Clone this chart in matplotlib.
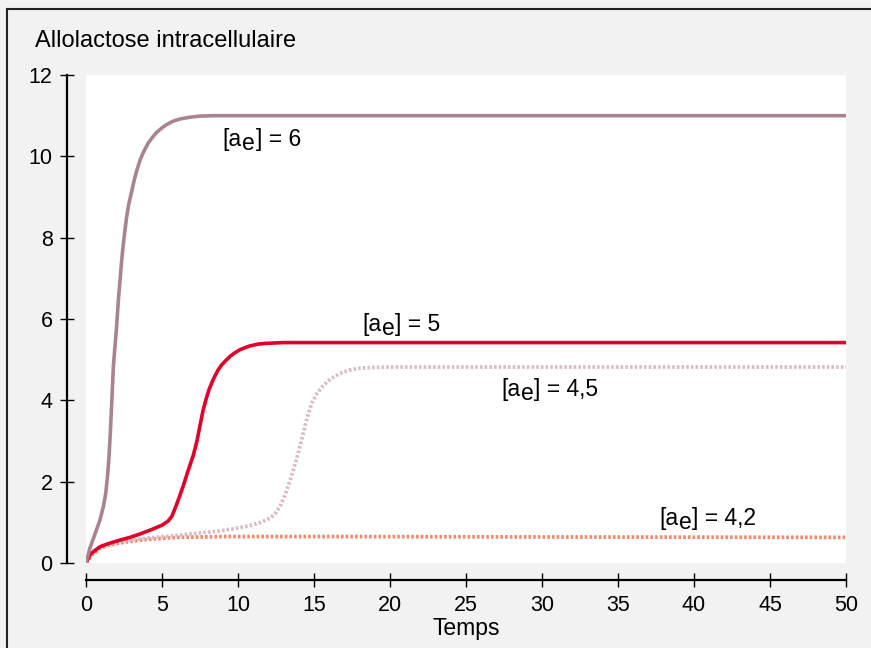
import numpy as np
import matplotlib
matplotlib.use("Agg")
import matplotlib.pyplot as plt
from matplotlib.lines import Line2D

plt.rcParams['font.family'] = ['Liberation Sans', 'DejaVu Sans']

# courbes
t6 = [0, 0.26, 0.6, 0.92, 1.15, 1.3, 1.42, 1.52, 1.6, 1.7, 1.8, 1.9, 2.0, 2.13, 2.25, 2.35, 2.46, 2.57, 2.67, 2.8, 3.0, 3.15, 3.3, 3.55, 3.8, 4.1, 4.4, 4.65, 5.0, 5.3, 5.7, 6.2, 6.8, 7.5, 8.5, 50]
y6 = [0, 0.37, 0.72, 1.06, 1.4, 1.72, 2.15, 2.65, 3.2, 4.0, 4.83, 5.3, 5.75, 6.47, 7.0, 7.45, 7.86, 8.2, 8.5, 8.8, 9.13, 9.38, 9.6, 9.9, 10.12, 10.33, 10.48, 10.59, 10.7, 10.78, 10.86, 10.92, 10.96, 10.99, 11.0, 11.0]

t5 = [0, 0.3, 0.92, 1.5, 2.2, 2.89, 3.6, 4.3, 5.0, 5.4, 5.65, 5.9, 6.15, 6.4, 6.7, 7.06, 7.3, 7.5, 7.7, 7.9, 8.1, 8.38, 8.65, 8.9, 9.2, 9.47, 9.8, 10.1, 10.5, 10.8, 11.3, 11.8, 12.4, 13, 50]
y5 = [0, 0.22, 0.40, 0.48, 0.56, 0.63, 0.72, 0.82, 0.93, 1.03, 1.15, 1.38, 1.63, 1.9, 2.25, 2.65, 3.0, 3.38, 3.75, 4.03, 4.27, 4.52, 4.72, 4.86, 4.98, 5.08, 5.17, 5.24, 5.3, 5.34, 5.38, 5.4, 5.41, 5.42, 5.42]

t45 = [0, 0.48, 1.2, 2.0, 2.68, 3.5, 4.2, 5.5, 7.0, 8.6, 9.7, 10.8, 11.5, 12.1, 12.5, 12.8, 13.1, 13.4, 13.7, 14.0, 14.3, 14.55, 14.85, 15.2, 15.6, 16.1, 16.7, 17.3, 18.0, 19.0, 20.0, 50]
y45 = [0, 0.3, 0.45, 0.51, 0.55, 0.59, 0.62, 0.66, 0.72, 0.78, 0.84, 0.92, 1.0, 1.1, 1.24, 1.42, 1.68, 2.0, 2.36, 2.76, 3.2, 3.58, 3.93, 4.17, 4.36, 4.53, 4.66, 4.74, 4.79, 4.81, 4.82, 4.82]

t42 = [0, 0.4, 0.92, 1.6, 2.68, 4.0, 5.96, 9.25, 16.9, 30, 50]
y42 = [0, 0.2, 0.36, 0.45, 0.52, 0.58, 0.63, 0.65, 0.65, 0.64, 0.63]

label_vals = ['6', '5', '4,5', '4,2']
label_pos = [(9.0, 10.25), (18.16, 5.70), (27.3, 4.11), (37.7, 0.93)]

bg = '#f2f2f2'
fig = plt.figure(figsize=(8.71, 6.48), dpi=100, facecolor=bg)
ax = fig.add_axes([86/871, 85/648, 760/871, 488/648], facecolor='white')

ax.plot(t42, y42, color='#f08a6c', lw=2.7, dashes=(0.7, 0.55))
ax.plot(t45, y45, color='#d9bcc6', lw=2.7, dashes=(0.7, 0.55))
ax.plot(t5, y5, color='#e0002a', lw=2.6, solid_capstyle='round', solid_joinstyle='round')
ax.plot(t6, y6, color='#a9838f', lw=2.6, solid_capstyle='round', solid_joinstyle='round')

fs_lab = 16.5
for val, (x, y) in zip(label_vals, label_pos):
    t1 = ax.text(x, y, '[a', fontsize=fs_lab, ha='left', va='baseline')
    t2 = ax.annotate('e', xy=(1, y), xycoords=(t1, 'data'), xytext=(0.3, -3),
                     textcoords='offset points', fontsize=fs_lab, ha='left', va='baseline')
    ax.annotate('] = ' + val, xy=(1, y), xycoords=(t2, 'data'), xytext=(0.3, 0),
                textcoords='offset points', fontsize=fs_lab, ha='left', va='baseline')

ax.set_xlim(0, 50)
ax.set_ylim(0, 12)
ax.set_xticks(np.arange(0, 51, 5))
ax.set_yticks(np.arange(0, 13, 2))
for s in ['top', 'right']:
    ax.spines[s].set_visible(False)
ax.spines['left'].set_position(('outward', 13.7))
ax.spines['bottom'].set_position(('outward', 12.2))
ax.spines['left'].set_linewidth(1.6)
ax.spines['bottom'].set_linewidth(1.6)
ax.tick_params(axis='both', direction='inout', length=10.5, width=1, labelsize=15.5)
ax.tick_params(axis='x', pad=5.5)
ax.tick_params(axis='y', pad=5)
ax.set_xlabel('Temps', fontsize=16.5, va='baseline')
ax.xaxis.set_label_coords(0.5, -72/488)

fig.text(35/871, 1 - 47/648, 'Allolactose intracellulaire', fontsize=17, ha='left', va='baseline')

# cadre (haut et gauche)
fig.add_artist(Line2D([7/871, 1], [1 - 9/648, 1 - 9/648], color='#222222', lw=1.5, transform=fig.transFigure))
fig.add_artist(Line2D([7/871, 7/871], [0, 1 - 9/648], color='#222222', lw=1.5, transform=fig.transFigure))

fig.savefig('out.png', dpi=100, facecolor=bg)
